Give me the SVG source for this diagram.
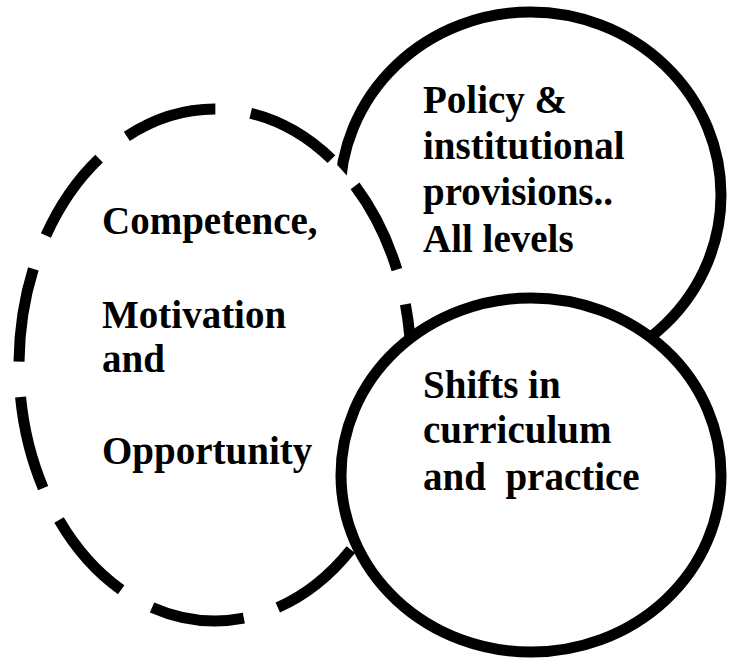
<svg xmlns="http://www.w3.org/2000/svg" width="729" height="658" viewBox="0 0 729 658">
  <style>
    .shape { fill: #ffffff; stroke: #000000; stroke-width: 11; }
    .dashed { stroke-dasharray: 94 35.66; stroke-dashoffset: 61.66; }
    .label { font-family: "Liberation Serif", "Times New Roman", serif; font-weight: bold; font-size: 39px; fill: #000000; white-space: pre; }
  </style>
  <rect x="0" y="0" width="729" height="658" fill="#ffffff"/>
  <g id="node-policy">
    <ellipse class="shape" cx="530.5" cy="195" rx="190.5" ry="183"/>
    <text class="label" x="423" y="113">Policy &amp;</text>
    <text class="label" x="423" y="159">institutional</text>
    <text class="label" x="423" y="205">provisions..</text>
    <text class="label" x="423" y="252">All levels</text>
  </g>
  <g id="node-competence">
    <ellipse class="shape dashed" cx="215" cy="365" rx="196" ry="256"/>
    <text class="label" x="102" y="234">Competence,</text>
    <text class="label" x="102" y="328">Motivation</text>
    <text class="label" x="102" y="372">and</text>
    <text class="label" x="102" y="464">Opportunity</text>
  </g>
  <g id="node-shifts">
    <ellipse class="shape" cx="531" cy="475" rx="190" ry="177"/>
    <text class="label" x="423" y="398">Shifts in</text>
    <text class="label" x="423" y="443">curriculum</text>
    <text class="label" x="423" y="490" xml:space="preserve">and  practice</text>
  </g>
  <g id="connectors"/>
</svg>
